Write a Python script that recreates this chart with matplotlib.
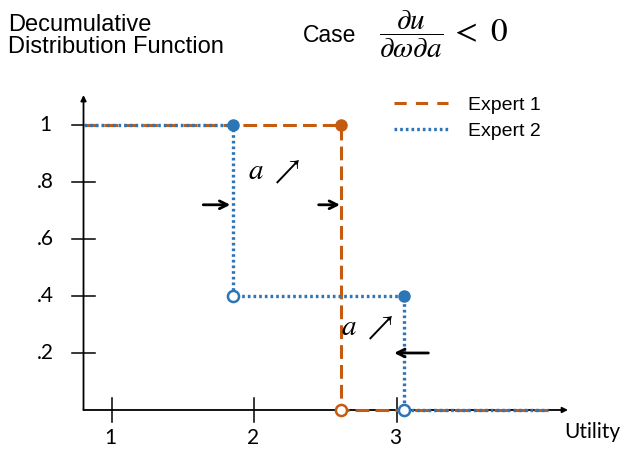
import matplotlib
matplotlib.use("Agg")
import matplotlib.pyplot as plt
from matplotlib.lines import Line2D

plt.rcParams["font.family"] = ["Liberation Sans", "DejaVu Sans"]
plt.rcParams["mathtext.fontset"] = "stix"

ORANGE = "#C55A11"
BLUE = "#2E75B6"
DASH = (0, (4.5, 2))
DOT = (0, (0.8, 0.9))

# step functions (decumulative distribution)
expert1_x = [0.8, 2.61, 2.61, 4.06]
expert1_y = [1.0, 1.0, 0.0, 0.0]
expert2_x = [0.8, 1.85, 1.85, 3.05, 3.05, 4.06]
expert2_y = [1.0, 1.0, 0.4, 0.4, 0.0, 0.0]

# jump points: filled = value kept, open = value left
e1_filled = ([2.61], [1.0])
e1_open = ([2.61], [0.0])
e2_filled = ([1.85, 3.05], [1.0, 0.4])
e2_open = ([1.85, 3.05], [0.4, 0.0])

x_ticks = [1, 2, 3]
x_tick_labels = ["1", "2", "3"]
y_ticks = [1.0, 0.8, 0.6, 0.4, 0.2]
y_tick_labels = ["1", ".8", ".6", ".4", ".2"]

# shift arrows: (tail_x, head_x, y)
shift_arrows = [(1.64, 1.83, 0.72), (2.45, 2.60, 0.72), (3.22, 2.98, 0.20)]

fig = plt.figure(figsize=(6.22, 4.5), dpi=100)
ax = fig.add_axes([0, 0, 1, 1])
ax.set_xlim(0.214, 4.579)
ax.set_ylim(-0.1404, 1.4386)
ax.axis("off")

# axes with arrow heads
ax.annotate("", xy=(0.8, 1.105), xytext=(0.8, 0.0),
            arrowprops=dict(arrowstyle="-|>", color="black", lw=1.3,
                            mutation_scale=8, shrinkA=0, shrinkB=0))
ax.annotate("", xy=(4.2, 0.0), xytext=(0.8, 0.0),
            arrowprops=dict(arrowstyle="-|>", color="black", lw=1.3,
                            mutation_scale=8, shrinkA=0, shrinkB=0))

for xt, lab in zip(x_ticks, x_tick_labels):
    ax.plot([xt, xt], [-0.042, 0.042], color="black", lw=1.1)
    ax.text(xt - 0.01, -0.1, lab, ha="center", va="center", fontsize=15,
            family="Lato")
for yt, lab in zip(y_ticks, y_tick_labels):
    ax.plot([0.72, 0.88], [yt, yt], color="black", lw=1.1, zorder=1)
    ax.text(0.535, yt, lab, ha="center", va="center", fontsize=15,
            family="Lato")

ax.text(4.37, -0.077, "Utility", ha="center", va="center", fontsize=15,
        family="Lato")

# step lines
ax.plot(expert1_x, expert1_y, color=ORANGE, lw=2.2, ls=DASH, zorder=3)
ax.plot(expert2_x, expert2_y, color=BLUE, lw=2.4, ls=DOT, zorder=3)

ms = 8
ax.plot(*e1_filled, "o", color=ORANGE, ms=ms, zorder=5)
ax.plot(*e1_open, "o", mfc="white", mec=ORANGE, mew=1.8, ms=ms, zorder=5)
ax.plot(*e2_filled, "o", color=BLUE, ms=ms, zorder=5)
ax.plot(*e2_open, "o", mfc="white", mec=BLUE, mew=1.8, ms=ms, zorder=5)

for tail, head, y in shift_arrows:
    ax.annotate("", xy=(head, y), xytext=(tail, y),
                arrowprops=dict(arrowstyle="->", color="black", lw=2.0,
                                mutation_scale=14, shrinkA=0, shrinkB=0))

ax.text(2.14, 0.835, r"$a\ \nearrow$", ha="center", va="center", fontsize=21)
ax.text(2.79, 0.288, r"$a\ \nearrow$", ha="center", va="center", fontsize=21)

# titles
fig.text(0.013, 0.968, "Decumulative\nDistribution Function", ha="left", va="top",
         fontsize=17, linespacing=0.98)
fig.text(0.487, 0.922, "Case", ha="left", va="center", fontsize=16.5)
fig.text(0.609, 0.924, r"$\dfrac{\partial u}{\partial\omega\partial a}$",
         ha="left", va="center", fontsize=21)
fig.text(0.724, 0.927, r"$<\ 0$", ha="left", va="center", fontsize=24)

handles = [Line2D([], [], color=ORANGE, lw=2.2, ls=(0, (4, 3))),
           Line2D([], [], color=BLUE, lw=2.4, ls=DOT)]
fig.legend(handles, ["Expert 1", "Expert 2"], loc="upper left",
           bbox_to_anchor=(0.605, 0.825), frameon=False, fontsize=14,
           handlelength=2.8, handletextpad=1.0, labelspacing=0.45)

fig.savefig("out.png", dpi=100, facecolor="white")
